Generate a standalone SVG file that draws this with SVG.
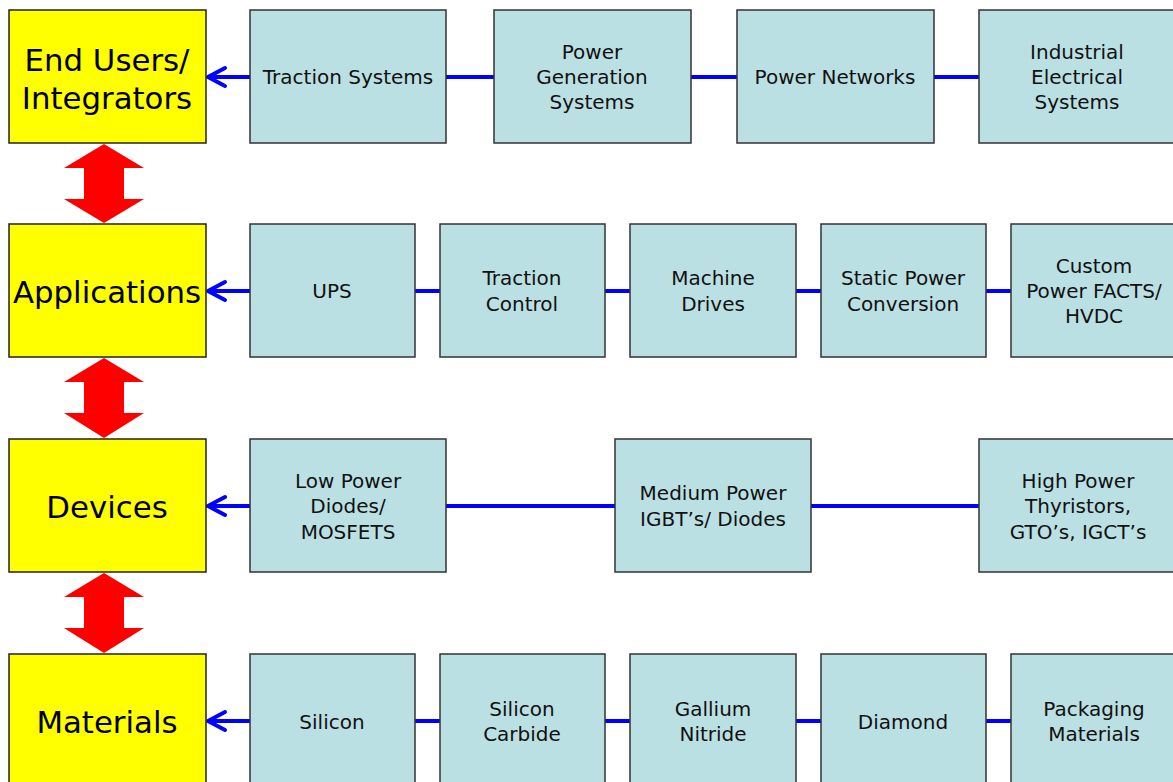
<svg xmlns="http://www.w3.org/2000/svg" width="1173" height="782" viewBox="0 0 1173 782">
<style>
.y{fill:#ffff00;stroke:#222;stroke-width:1.5}
.t{fill:#bbe0e3;stroke:#333;stroke-width:1.5}
.yl{font-family:"DejaVu Sans",sans-serif;font-size:30.8px;fill:#000;text-anchor:middle}
.tl{font-family:"DejaVu Sans",sans-serif;font-size:20px;fill:#111;text-anchor:middle}
.c{stroke:#0000ff;stroke-width:4;fill:none}
.ah{stroke:#0000ff;stroke-width:4;fill:none;stroke-linecap:round;stroke-linejoin:round}
.ra{fill:#ff0000}
</style>
<rect width="1173" height="782" fill="#fff"/>
<g id="connectors">
<line class="c" x1="446" y1="77" x2="494" y2="77"/>
<line class="c" x1="691" y1="77" x2="737" y2="77"/>
<line class="c" x1="934" y1="77" x2="979" y2="77"/>
<line class="c" x1="415" y1="291" x2="440" y2="291"/>
<line class="c" x1="605" y1="291" x2="630" y2="291"/>
<line class="c" x1="796" y1="291" x2="821" y2="291"/>
<line class="c" x1="986" y1="291" x2="1011" y2="291"/>
<line class="c" x1="446" y1="506" x2="615" y2="506"/>
<line class="c" x1="811" y1="506" x2="979" y2="506"/>
<line class="c" x1="415" y1="721" x2="440" y2="721"/>
<line class="c" x1="605" y1="721" x2="630" y2="721"/>
<line class="c" x1="796" y1="721" x2="821" y2="721"/>
<line class="c" x1="986" y1="721" x2="1011" y2="721"/>
<g id="arrow-row1"><line class="c" x1="250" y1="77" x2="209" y2="77"/><polyline class="ah" points="225,68 208,77 225,86"/></g>
<g id="arrow-row2"><line class="c" x1="250" y1="291" x2="209" y2="291"/><polyline class="ah" points="225,282 208,291 225,300"/></g>
<g id="arrow-row3"><line class="c" x1="250" y1="506" x2="209" y2="506"/><polyline class="ah" points="225,497 208,506 225,515"/></g>
<g id="arrow-row4"><line class="c" x1="250" y1="721" x2="209" y2="721"/><polyline class="ah" points="225,712 208,721 225,730"/></g>
<path id="red-1" class="ra" d="M104,144 L144,168 L124,168 L124,199 L144,199 L104,223 L64,199 L84,199 L84,168 L64,168 Z"/>
<path id="red-2" class="ra" d="M104,358 L144,382 L124,382 L124,413 L144,413 L104,438 L64,413 L84,413 L84,382 L64,382 Z"/>
<path id="red-3" class="ra" d="M104,573 L144,597 L124,597 L124,628 L144,628 L104,653 L64,628 L84,628 L84,597 L64,597 Z"/>
</g>
<g id="end-users"><rect class="y" x="9" y="10" width="197" height="133"/><text class="yl" x="107" y="71">End Users/</text><text class="yl" x="107" y="109">Integrators</text></g>
<g id="applications"><rect class="y" x="9" y="224" width="197" height="133"/><text class="yl" x="107" y="303">Applications</text></g>
<g id="devices"><rect class="y" x="9" y="439" width="197" height="133"/><text class="yl" x="107" y="518">Devices</text></g>
<g id="materials"><rect class="y" x="9" y="654" width="197" height="140"/><text class="yl" x="107" y="733">Materials</text></g>

<g id="traction-systems"><rect class="t" x="250" y="10" width="196" height="133"/><text class="tl" x="348" y="84">Traction Systems</text></g>
<g id="power-generation"><rect class="t" x="494" y="10" width="197" height="133"/><text class="tl" x="592" y="59">Power</text><text class="tl" x="592" y="84">Generation</text><text class="tl" x="592" y="109">Systems</text></g>
<g id="power-networks"><rect class="t" x="737" y="10" width="197" height="133"/><text class="tl" x="835" y="84">Power Networks</text></g>
<g id="industrial"><rect class="t" x="979" y="10" width="200" height="133"/><text class="tl" x="1077" y="59">Industrial</text><text class="tl" x="1077" y="84">Electrical</text><text class="tl" x="1077" y="109">Systems</text></g>

<g id="ups"><rect class="t" x="250" y="224" width="165" height="133"/><text class="tl" x="332" y="298">UPS</text></g>
<g id="traction-control"><rect class="t" x="440" y="224" width="165" height="133"/><text class="tl" x="522" y="285">Traction</text><text class="tl" x="522" y="311">Control</text></g>
<g id="machine-drives"><rect class="t" x="630" y="224" width="166" height="133"/><text class="tl" x="713" y="285">Machine</text><text class="tl" x="713" y="311">Drives</text></g>
<g id="static-power"><rect class="t" x="821" y="224" width="165" height="133"/><text class="tl" x="903" y="285">Static Power</text><text class="tl" x="903" y="311">Conversion</text></g>
<g id="custom-power"><rect class="t" x="1011" y="224" width="170" height="133"/><text class="tl" x="1094" y="273">Custom</text><text class="tl" x="1094" y="298">Power FACTS/</text><text class="tl" x="1094" y="323">HVDC</text></g>

<g id="low-power"><rect class="t" x="250" y="439" width="196" height="133"/><text class="tl" x="348" y="488">Low Power</text><text class="tl" x="348" y="513">Diodes/</text><text class="tl" x="348" y="539">MOSFETS</text></g>
<g id="medium-power"><rect class="t" x="615" y="439" width="196" height="133"/><text class="tl" x="713" y="500">Medium Power</text><text class="tl" x="713" y="526">IGBT’s/ Diodes</text></g>
<g id="high-power"><rect class="t" x="979" y="439" width="200" height="133"/><text class="tl" x="1078" y="488">High Power</text><text class="tl" x="1078" y="513">Thyristors,</text><text class="tl" x="1078" y="539">GTO’s, IGCT’s</text></g>

<g id="silicon"><rect class="t" x="250" y="654" width="165" height="140"/><text class="tl" x="332" y="729">Silicon</text></g>
<g id="silicon-carbide"><rect class="t" x="440" y="654" width="165" height="140"/><text class="tl" x="522" y="716">Silicon</text><text class="tl" x="522" y="741">Carbide</text></g>
<g id="gallium-nitride"><rect class="t" x="630" y="654" width="166" height="140"/><text class="tl" x="713" y="716">Gallium</text><text class="tl" x="713" y="741">Nitride</text></g>
<g id="diamond"><rect class="t" x="821" y="654" width="165" height="140"/><text class="tl" x="903" y="729">Diamond</text></g>
<g id="packaging"><rect class="t" x="1011" y="654" width="170" height="140"/><text class="tl" x="1094" y="716">Packaging</text><text class="tl" x="1094" y="741">Materials</text></g>
</svg>
